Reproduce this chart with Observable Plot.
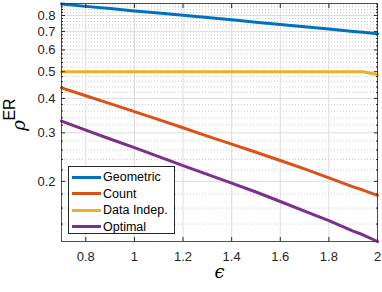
<!DOCTYPE html>
<html><head><meta charset="utf-8">
<script src="https://cdn.jsdelivr.net/npm/d3@7"></script>
<script src="https://cdn.jsdelivr.net/npm/@observablehq/plot@0.6"></script>
<style>
body{margin:0;background:#fff;font-family:"Liberation Sans",Arial,sans-serif;}
#wrap{position:relative;width:382px;height:292px;}
#legend{position:absolute;left:68px;top:166px;width:107px;height:68px;border:1px solid #262626;background:#fff;box-sizing:border-box;font-size:12.5px;color:#000;}
.item{position:absolute;left:3px;height:16px;display:flex;align-items:center;}
.sw{width:29px;height:3px;margin-right:2px;}
</style></head><body>
<div id="wrap"></div>
<script>
const eps = [0.7,0.8,0.9,1.0,1.1,1.2,1.3,1.4,1.5,1.6,1.7,1.8,1.9,1.94,2.0];
const geometric = [0.880,0.863,0.847,0.831,0.816,0.801,0.786,0.771,0.756,0.742,0.728,0.714,0.700,0.695,0.687];
const count     = [0.437,0.409,0.383,0.358,0.335,0.313,0.292,0.273,0.255,0.238,0.222,0.206,0.191,0.186,0.178];
const dataIndep = [0.500,0.500,0.500,0.500,0.500,0.500,0.500,0.500,0.500,0.500,0.500,0.500,0.500,0.500,0.488];
const optimal   = [0.331,0.307,0.285,0.265,0.246,0.228,0.212,0.197,0.183,0.169,0.156,0.144,0.132,0.128,0.121];
const seriesNames = ["Geometric","Count","Data Indep.","Optimal"];
const seriesValues = [geometric,count,dataIndep,optimal];
const colors = ["#0072BD","#D95319","#EDB120","#7E2F8E"];
const xTicks = [0.8,1,1.2,1.4,1.6,1.8,2];
const yTicks = [0.2,0.3,0.4,0.5,0.6,0.7,0.8];
const yMinor = [0.14,0.16,0.18,0.22,0.24,0.26,0.28,0.32,0.34,0.36,0.38,0.42,0.44,0.46,0.48,0.52,0.54,0.56,0.58,0.62,0.64,0.66,0.68,0.72,0.74,0.76,0.78,0.82,0.84,0.86,0.88];

const rows = [];
seriesNames.forEach((s,i)=>eps.forEach((e,j)=>rows.push({series:s,eps:e,v:seriesValues[i][j]})));

const ink = "#262626";
const chart = Plot.plot({
  width:382, height:292,
  marginLeft:61, marginRight:5, marginTop:3, marginBottom:51,
  style:{fontFamily:"Liberation Sans, Arial, sans-serif", fontSize:"13px", color:ink, background:"#fff"},
  x:{domain:[0.7,2]},
  y:{type:"log", domain:[0.121,0.884]},
  color:{domain:seriesNames, range:colors},
  marks:[
    Plot.gridY(yMinor,{stroke:"#b0b0b0", strokeOpacity:0.7, strokeDasharray:"1,2"}),
    Plot.gridY(yTicks,{stroke:"#dcdcdc", strokeOpacity:1}),
    Plot.gridX(xTicks,{stroke:"#dcdcdc", strokeOpacity:1}),
    Plot.line(rows,{x:"eps", y:"v", z:"series", stroke:"series", strokeWidth:3}),
    Plot.frame({stroke:ink, strokeWidth:0.8}),
    Plot.axisX(xTicks,{anchor:"bottom", tickSize:-4, tickPadding:14, stroke:ink, fill:ink, label:null, tickFormat:d=>String(d), fontSize:13}),
    Plot.axisX(xTicks,{anchor:"top", tickSize:-4, stroke:ink, label:null, tickFormat:()=>""}),
    Plot.axisY(yTicks,{anchor:"left", tickSize:-4, tickPadding:10, stroke:ink, fill:ink, label:null, tickFormat:d=>String(d), fontSize:13}),
    Plot.axisY(yTicks,{anchor:"right", tickSize:-4, stroke:ink, label:null, tickFormat:()=>""}),
    Plot.axisY(yMinor,{anchor:"left", tickSize:-2, stroke:ink, label:null, tickFormat:()=>""}),
    Plot.axisY(yMinor,{anchor:"right", tickSize:-2, stroke:ink, label:null, tickFormat:()=>""}),
    Plot.text(["ϵ"],{frameAnchor:"bottom", dy:36, fontSize:18, fontStyle:"italic", fontFamily:"DejaVu Serif", fill:"#000"}),
    Plot.text(["ρ"],{frameAnchor:"left", textAnchor:"middle", dx:-42, dy:3, rotate:-90, fontSize:18, fontStyle:"italic", fontFamily:"DejaVu Serif", fill:"#000"}),
    Plot.text(["ER"],{frameAnchor:"left", textAnchor:"middle", dx:-52, dy:-13, rotate:-90, fontSize:16, fill:"#000"})
  ]
});
const wrap = document.getElementById("wrap");
wrap.appendChild(chart);
const leg = document.createElement("div");
leg.id = "legend";
seriesNames.forEach((s,i)=>{
  const it = document.createElement("div");
  it.className = "item";
  it.style.top = (2 + i*16.5) + "px";
  const sw = document.createElement("span");
  sw.className = "sw"; sw.style.background = colors[i];
  const t = document.createElement("span"); t.textContent = s;
  it.appendChild(sw); it.appendChild(t);
  leg.appendChild(it);
});
wrap.appendChild(leg);
</script>
</body></html>
